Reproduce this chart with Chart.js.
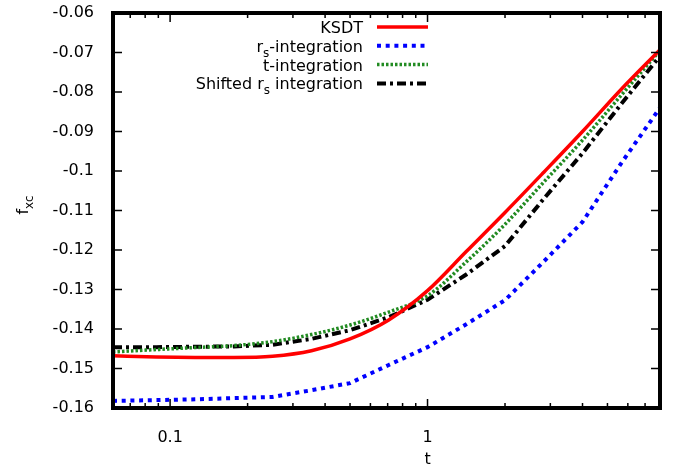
<!DOCTYPE html>
<html>
<head>
<meta charset="utf-8">
<script src="https://cdn.jsdelivr.net/npm/chart.js@4.4.1/dist/chart.umd.min.js"></script>
<style>
  html, body { margin: 0; padding: 0; background: #fff; }
  #wrap { width: 678px; height: 468px; }
</style>
</head>
<body>
<div id="wrap"><canvas id="chart" width="678" height="468"></canvas></div>
<script>
// temperature grid (log axis) and the four f_xc curves
const tValues = [0.06, 0.0884, 0.125, 0.177, 0.25, 0.354, 0.5, 0.707, 1, 1.414, 2, 2.83, 4, 5.66, 8];
const ksdt = [-0.1468, -0.1471, -0.1472, -0.1472, -0.1469, -0.1455, -0.1425, -0.1377, -0.1303, -0.1204, -0.1105, -0.1003, -0.0900, -0.0793, -0.0693];
const rsIntegration = [-0.1582, -0.1580, -0.1578, -0.1575, -0.1572, -0.1555, -0.1537, -0.1491, -0.1446, -0.1388, -0.1327, -0.1229, -0.1129, -0.0980, -0.0840];
const tIntegration = [-0.1458, -0.1452, -0.1447, -0.1442, -0.1432, -0.1414, -0.1390, -0.1357, -0.1316, -0.1230, -0.1135, -0.1028, -0.0922, -0.0808, -0.0695];
const shiftedRs = [-0.1446, -0.1446, -0.1445, -0.1444, -0.1440, -0.1425, -0.1403, -0.1370, -0.1326, -0.1262, -0.1190, -0.1070, -0.0955, -0.0830, -0.0709];

const yTickValues = [-0.16, -0.15, -0.14, -0.13, -0.12, -0.11, -0.10, -0.09, -0.08, -0.07, -0.06];
const yTickLabels = ['-0.16', '-0.15', '-0.14', '-0.13', '-0.12', '-0.11', '-0.1', '-0.09', '-0.08', '-0.07', '-0.06'];
const xMajorTicks = [0.1, 1];
const xMajorLabels = ['0.1', '1'];
const xMinorTicks = [0.07, 0.08, 0.09, 0.2, 0.3, 0.4, 0.5, 0.6, 0.7, 0.8, 0.9, 2, 3, 4, 5, 6, 7];

// legend text pieces: [text, isSubscript]
const legendLabels = [
    [['KSDT', false]],
    [['r', false], ['s', true], ['-integration', false]],
    [['t-integration', false]],
    [['Shifted r', false], ['s', true], [' integration', false]],
];

const FONT = 'DejaVu Sans';
Chart.defaults.font.family = FONT;
Chart.defaults.font.size = 16;
Chart.defaults.color = '#000';

function toPoints(ys) {
    return tValues.map((t, i) => ({ x: t, y: ys[i] }));
}

function drawRich(ctx, parts, x, y, size, align) {
    const subSize = Math.round(size * 0.72);
    let total = 0;
    parts.forEach(([txt, sub]) => {
        ctx.font = (sub ? subSize : size) + 'px "' + FONT + '"';
        total += ctx.measureText(txt).width;
    });
    let cx = align === 'right' ? x - total : align === 'center' ? x - total / 2 : x;
    parts.forEach(([txt, sub]) => {
        ctx.font = (sub ? subSize : size) + 'px "' + FONT + '"';
        ctx.fillText(txt, cx, sub ? y + 5 : y);
        cx += ctx.measureText(txt).width;
    });
}

const framePlugin = {
    id: 'frame',
    afterDatasetsDraw(chart) {
        const { ctx, chartArea: a, scales } = chart;
        const xs = scales.x, ys = scales.y;
        ctx.save();
        ctx.strokeStyle = '#000';
        ctx.setLineDash([]);
        // inward ticks on all four sides
        ctx.lineWidth = 1.5;
        ctx.beginPath();
        xMinorTicks.concat(xMajorTicks).forEach((v) => {
            const len = xMajorTicks.includes(v) ? 9 : 5;
            const px = xs.getPixelForValue(v);
            ctx.moveTo(px, a.bottom); ctx.lineTo(px, a.bottom - len);
            ctx.moveTo(px, a.top); ctx.lineTo(px, a.top + len);
        });
        yTickValues.forEach((v) => {
            const py = ys.getPixelForValue(v);
            ctx.moveTo(a.left, py); ctx.lineTo(a.left + 9, py);
            ctx.moveTo(a.right, py); ctx.lineTo(a.right - 9, py);
        });
        ctx.stroke();
        // heavy border
        ctx.lineWidth = 4;
        ctx.strokeRect(a.left, a.top, a.right - a.left, a.bottom - a.top);

        // legend
        ctx.fillStyle = '#000';
        ctx.textBaseline = 'alphabetic';
        chart.data.datasets.forEach((ds, i) => {
            const rowY = 27 + i * 18.8;
            drawRich(ctx, legendLabels[i], 363, rowY + 6, 16, 'right');
            ctx.save();
            ctx.strokeStyle = ds.borderColor;
            ctx.lineWidth = ds.borderWidth;
            ctx.setLineDash(ds.borderDash || []);
            ctx.beginPath();
            ctx.moveTo(377, rowY);
            ctx.lineTo(428, rowY);
            ctx.stroke();
            ctx.restore();
        });

        // axis titles
        ctx.fillStyle = '#000';
        drawRich(ctx, [['t', false]], xs.getPixelForValue(1), 464, 16, 'center');
        ctx.translate(28, 205);
        ctx.rotate(-Math.PI / 2);
        drawRich(ctx, [['f', false], ['xc', true]], 0, 0, 16, 'center');
        ctx.restore();
    },
};

new Chart(document.getElementById('chart'), {
    type: 'line',
    data: {
        datasets: [
            { label: 'KSDT', data: toPoints(ksdt), borderColor: '#ff0000', borderWidth: 3.5, cubicInterpolationMode: 'monotone' },
            { label: 'rs-integration', data: toPoints(rsIntegration), borderColor: '#0000ff', borderWidth: 4, borderDash: [4, 4.7] },
            { label: 't-integration', data: toPoints(tIntegration), borderColor: '#228b22', borderWidth: 3.5, borderDash: [2.5, 2], cubicInterpolationMode: 'monotone' },
            { label: 'Shifted rs integration', data: toPoints(shiftedRs), borderColor: '#000000', borderWidth: 4, borderDash: [9, 4, 3, 4] },
        ],
    },
    options: {
        responsive: false,
        animation: false,
        devicePixelRatio: 1,
        layout: { padding: { left: 0, right: 18, top: 13, bottom: 0 } },
        elements: {
            point: { radius: 0 },
            line: { tension: 0, borderCapStyle: 'butt', fill: false },
        },
        plugins: {
            legend: { display: false },
            tooltip: { enabled: false },
        },
        scales: {
            x: {
                type: 'logarithmic',
                min: 0.06,
                max: 8,
                grid: { display: false },
                border: { display: false },
                afterBuildTicks: (scale) => {
                    scale.ticks = xMinorTicks.concat(xMajorTicks)
                        .sort((p, q) => p - q)
                        .map((v) => ({ value: v, major: xMajorTicks.includes(v) }));
                },
                afterFit: (scale) => {
                    scale.height = 60;
                    scale.paddingLeft = 0;
                    scale.paddingRight = 0;
                },
                ticks: {
                    autoSkip: false,
                    maxRotation: 0,
                    padding: 12,
                    callback: (value) => {
                        const i = xMajorTicks.indexOf(value);
                        return i >= 0 ? xMajorLabels[i] : '';
                    },
                },
            },
            y: {
                min: -0.16,
                max: -0.06,
                grid: { display: false },
                border: { display: false },
                afterBuildTicks: (scale) => {
                    scale.ticks = yTickValues.map((v) => ({ value: v }));
                },
                afterFit: (scale) => {
                    scale.width = 113;
                    scale.paddingTop = 0;
                    scale.paddingBottom = 0;
                },
                ticks: {
                    padding: 11,
                    callback: (value, index) => yTickLabels[index],
                },
            },
        },
    },
    plugins: [framePlugin],
});
</script>
</body>
</html>
